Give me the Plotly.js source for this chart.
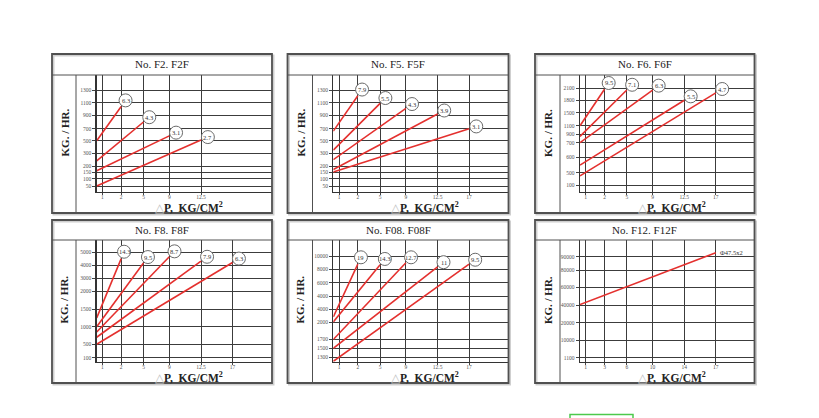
<!DOCTYPE html>
<html><head><meta charset="utf-8">
<script src="https://cdn.plot.ly/plotly-3.0.1.min.js"></script>
<style>html,body{margin:0;padding:0;background:#fff}#chart{width:819px;height:418px}</style>
</head><body><div id="chart"></div>
<script>
// ---------------- data ----------------
const f2Labels = ['6.3', '4.3', '3.1', '2.7'];
const f2StartKg = [500, 240, 160, 50];
const f2EndDp = [2, 5, 9, 12.5];
const f2EndKg = [1040, 800, 580, 510];
const f2XTicks = [1, 2, 5, 9, 12.5];
const f2YTicks = [50, 100, 150, 200, 300, 500, 700, 900, 1100, 1300];
const f2YTickText = ['50', '100', '150', '200', '300', '500', '700', '900', '1100', '1300'];

const f5Labels = ['7.9', '5.5', '4.3', '3.9', '3.1'];
const f5StartKg = [660, 350, 250, 170, 150];
const f5EndDp = [2, 5, 9, 12.5, 17];
const f5EndKg = [1210, 1090, 1010, 920, 700];
const f5XTicks = [1, 2, 5, 9, 12.5, 17];
const f5YTicks = [50, 100, 150, 200, 300, 500, 700, 900, 1100, 1300];
const f5YTickText = ['50', '100', '150', '200', '300', '500', '700', '900', '1100', '1300'];

const f6Labels = ['9.5', '7.1', '6.3', '5.5', '4.7'];
const f6StartKg = [1100, 850, 700, 550, 400];
const f6EndDp = [2, 5, 9, 12.5, 17];
const f6EndKg = [2070, 2050, 2050, 1800, 1980];
const f6XTicks = [1, 2, 5, 9, 12.5, 17];
const f6YTicks = [100, 500, 600, 700, 900, 1100, 1500, 1800, 2100];
const f6YTickText = ['100', '500', '600', '700', '900', '1100', '1500', '1800', '2100'];

const f8Labels = ['14.3', '9.5', '8.7', '7.9', '6.3'];
const f8StartKg = [1250, 1000, 850, 700, 500];
const f8EndDp = [2, 5, 9, 12.5, 17];
const f8EndKg = [4500, 4150, 4650, 4300, 4200];
const f8XTicks = [1, 2, 5, 9, 12.5, 17];
const f8YTicks = [100, 500, 1000, 1500, 2000, 3000, 4000, 5000];
const f8YTickText = ['100', '500', '1000', '1500', '2000', '3000', '4000', '5000'];

const f08Labels = ['19', '14.3', '12.7', '11', '9.5'];
const f08StartKg = [2400, 2000, 1700, 1500, 1200];
const f08EndDp = [2, 5, 9, 12.5, 17];
const f08EndKg = [8800, 8700, 9000, 8400, 8800];
const f08XTicks = [1, 2, 5, 9, 12.5, 17];
const f08YTicks = [1300, 1500, 1700, 2000, 3000, 4000, 6000, 8000, 10000];
const f08YTickText = ['1300', '1500', '1700', '2000', '4000', '4000', '6000', '8000', '10000'];

const f12Labels = ['Φ47.5x2'];
const f12StartKg = [40500];
const f12EndDp = [17];
const f12EndKg = [93000];
const f12XTicks = [1, 3, 6, 10, 14, 17];
const f12YTicks = [1100, 10000, 20000, 40000, 60000, 80000, 90000];
const f12YTickText = ['1100', '10000', '20000', '40000', '60000', '80000', '90000'];

// ---------------- printed nomograph grid (non-linear axes) ----------------
// slot spacing of the printed ΔP grid, axis origin first
const gridXSlots = [0, 5.7, 24.5, 46.8, 72.6, 104.3, 135.8];
// spacing of the printed KG/HR grid lines, bottom first
const f2YGrid = [5.7, 13, 19.7, 25.7, 38.4, 51, 63, 76.4, 89, 101.7];
const f5YGrid = [5.7, 13, 19.7, 25.7, 38.4, 51, 63, 76.4, 89, 101.7];
const f6YGrid = [6.2, 19, 34.2, 49, 57.4, 65.9, 79, 91.4, 103.7];
const f8YGrid = [4, 17.4, 35, 52.7, 70.7, 83.4, 96.7, 109.4];
const f08YGrid = [4.7, 13.4, 22.2, 39.7, 52.5, 65.7, 79, 92.2, 105.7];
const f12YGrid = [4, 21.7, 39, 56.7, 74.4, 91.7, 105];

// ---------------- page geometry ----------------
const W = 819, H = 418;
const rows = [
  {top: 54, titleLine: 75, axisY: 191.7, bottom: 213},
  {top: 220, titleLine: 240, axisY: 361.7, bottom: 383}
];
const cols = [
  {left: 52, divider: 76, axisX: 96.7, right: 272},
  {left: 287.5, divider: 312.5, axisX: 333.3, right: 508.5},
  {left: 535, divider: 560, axisX: 580, right: 754.5}
];

const panels = [
  {title: 'No. F2. F2F', labels: f2Labels, start: f2StartKg, endDp: f2EndDp, end: f2EndKg, xTicks: f2XTicks, yTicks: f2YTicks, yText: f2YTickText, yGrid: f2YGrid, r: 0, c: 0, circled: true},
  {title: 'No. F5. F5F', labels: f5Labels, start: f5StartKg, endDp: f5EndDp, end: f5EndKg, xTicks: f5XTicks, yTicks: f5YTicks, yText: f5YTickText, yGrid: f5YGrid, r: 0, c: 1, circled: true},
  {title: 'No. F6. F6F', labels: f6Labels, start: f6StartKg, endDp: f6EndDp, end: f6EndKg, xTicks: f6XTicks, yTicks: f6YTicks, yText: f6YTickText, yGrid: f6YGrid, r: 0, c: 2, circled: true},
  {title: 'No. F8. F8F', labels: f8Labels, start: f8StartKg, endDp: f8EndDp, end: f8EndKg, xTicks: f8XTicks, yTicks: f8YTicks, yText: f8YTickText, yGrid: f8YGrid, r: 1, c: 0, circled: true},
  {title: 'No. F08. F08F', labels: f08Labels, start: f08StartKg, endDp: f08EndDp, end: f08EndKg, xTicks: f08XTicks, yTicks: f08YTicks, yText: f08YTickText, yGrid: f08YGrid, r: 1, c: 1, circled: true},
  {title: 'No. F12. F12F', labels: f12Labels, start: f12StartKg, endDp: f12EndDp, end: f12EndKg, xTicks: f12XTicks, yTicks: f12YTicks, yText: f12YTickText, yGrid: f12YGrid, r: 1, c: 2, circled: false}
];

const px = v => v / W;
const py = v => 1 - v / H;
function scaleFn(vals, pos) {
  return v => {
    let i = 0;
    while (i < vals.length - 2 && v > vals[i + 1]) i++;
    const t = (v - vals[i]) / (vals[i + 1] - vals[i]);
    return pos[i] + t * (pos[i + 1] - pos[i]);
  };
}

const SERIF = 'Liberation Serif, Times New Roman, serif';
const traces = [], shapes = [], annotations = [];
const layout = {
  width: W, height: H, margin: {l: 0, r: 0, t: 0, b: 0},
  paper_bgcolor: '#fff', plot_bgcolor: 'rgba(0,0,0,0)',
  showlegend: false, hovermode: false
};

panels.forEach((p, k) => {
  const n = k + 1;
  const xId = n === 1 ? 'x' : 'x' + n, yId = n === 1 ? 'y' : 'y' + n;
  const xKey = n === 1 ? 'xaxis' : 'xaxis' + n, yKey = n === 1 ? 'yaxis' : 'yaxis' + n;
  const R = rows[p.r], C = cols[p.c];
  const xs = scaleFn([0].concat(p.xTicks), gridXSlots.slice(0, p.xTicks.length + 1));
  const ys = scaleFn(p.yTicks, p.yGrid);

  layout[xKey] = {
    domain: [px(C.axisX), px(C.right)], range: [0, C.right - C.axisX], anchor: yId,
    tickmode: 'array', tickvals: p.xTicks.map(xs), ticktext: p.xTicks.map(String), tickangle: 0,
    showgrid: true, gridcolor: '#3c3c3c', gridwidth: 1, zeroline: false,
    showline: true, linecolor: '#333', linewidth: 1.3,
    ticks: 'outside', ticklen: 2, tickcolor: '#444', tickwidth: 1, ticklabelstandoff: -3,
    tickfont: {family: SERIF, size: 5.5, color: '#555'}, fixedrange: true
  };
  layout[yKey] = {
    domain: [py(R.axisY), py(R.titleLine)], range: [0, R.axisY - R.titleLine], anchor: xId,
    tickmode: 'array', tickvals: p.yTicks.map(ys), ticktext: p.yText,
    showgrid: true, gridcolor: '#3c3c3c', gridwidth: 1, zeroline: false,
    showline: true, linecolor: '#333', linewidth: 1.3,
    ticks: 'outside', ticklen: 3, tickcolor: '#444', tickwidth: 1,
    tickfont: {family: SERIF, size: 5.5, color: '#555'}, fixedrange: true
  };

  // frame
  shapes.push({type: 'rect', xref: 'paper', yref: 'paper', x0: px(C.left + 1.5), x1: px(C.right + 1.5), y0: py(R.bottom + 1.5), y1: py(R.top + 1.5), line: {color: '#cfcfcf', width: 2}});
  shapes.push({type: 'rect', xref: 'paper', yref: 'paper', x0: px(C.left), x1: px(C.right), y0: py(R.bottom), y1: py(R.top), line: {color: '#505050', width: 1.8}});
  shapes.push({type: 'line', xref: 'paper', yref: 'paper', x0: px(C.left), x1: px(C.right), y0: py(R.titleLine), y1: py(R.titleLine), line: {color: '#505050', width: 1}});
  shapes.push({type: 'line', xref: 'paper', yref: 'paper', x0: px(C.divider), x1: px(C.divider), y0: py(R.titleLine), y1: py(R.bottom), line: {color: '#505050', width: 1}});

  // texts
  annotations.push({xref: 'paper', yref: 'paper', x: px((C.left + C.right) / 2), y: py((R.top + R.titleLine) / 2), text: p.title, showarrow: false, xanchor: 'center', yanchor: 'middle', font: {family: SERIF, size: 11, color: '#222'}});
  annotations.push({xref: 'paper', yref: 'paper', x: px((C.left + C.divider) / 2 + 0.5), y: py(R.titleLine + 0.42 * (R.bottom - R.titleLine)), text: '<b>KG. / HR.</b>', textangle: -90, showarrow: false, xanchor: 'center', yanchor: 'middle', font: {family: SERIF, size: 11, color: '#222'}});
  annotations.push({xref: 'paper', yref: 'paper', x: px(C.left + 137), y: py(R.axisY + 15.5), text: '<span style="color:#c4c4c4">△</span><b>P,  KG/CM<sup>2</sup></b>', showarrow: false, xanchor: 'center', yanchor: 'middle', font: {family: SERIF, size: 11.5, color: '#222'}});

  // lines + labels
  p.labels.forEach((lab, i) => {
    const x0 = xs(0), y0 = ys(p.start[i]);
    const x1 = xs(p.endDp[i]), y1 = ys(p.end[i]);
    traces.push({type: 'scatter', mode: 'lines', xaxis: xId, yaxis: yId,
      x: [0, p.endDp[i]].map(xs), y: [p.start[i], p.end[i]].map(ys),
      line: {color: '#e4302e', width: 1.6}, hoverinfo: 'skip'});
    if (p.circled) {
      const dx = x1 - x0, dy = y1 - y0, len = Math.hypot(dx, dy);
      const cx = 7.5 * dx / len, cy = 7.5 * dy / len, rad = 6.5;
      shapes.push({type: 'circle', xref: xId, yref: yId, xsizemode: 'pixel', ysizemode: 'pixel',
        xanchor: x1, yanchor: y1, x0: cx - rad, x1: cx + rad, y0: cy - rad, y1: cy + rad,
        line: {color: '#6a6a6a', width: 1}, fillcolor: '#fff', layer: 'above'});
      annotations.push({xref: xId, yref: yId, x: x1, y: y1, xshift: cx, yshift: cy, text: lab,
        showarrow: false, xanchor: 'center', yanchor: 'middle', font: {family: SERIF, size: 6.5, color: '#333'}});
    } else {
      annotations.push({xref: xId, yref: yId, x: x1, y: y1, xshift: 2, yshift: 0, text: lab,
        showarrow: false, xanchor: 'left', yanchor: 'middle', font: {family: SERIF, size: 6.5, color: '#333'}});
    }
  });
});

// green button edge at the very bottom of the page
shapes.push({type: 'rect', xref: 'paper', yref: 'paper', x0: px(570), x1: px(633), y0: py(425), y1: py(414.5), line: {color: '#4cc94c', width: 1.5}});

layout.shapes = shapes;
layout.annotations = annotations;
Plotly.newPlot('chart', traces, layout, {staticPlot: true, displayModeBar: false});
</script>
</body></html>
